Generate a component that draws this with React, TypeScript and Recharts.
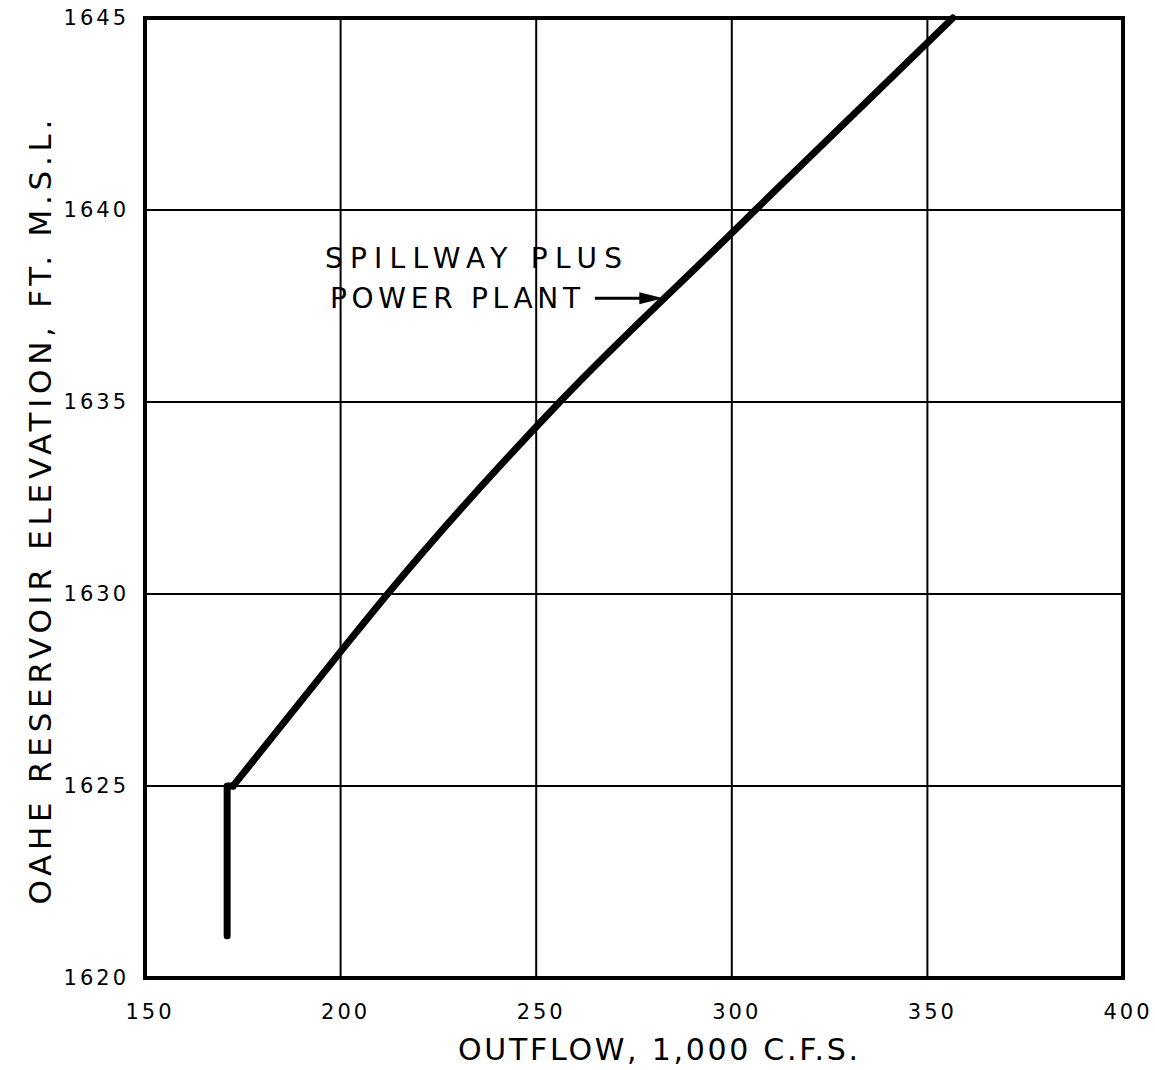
import { LineChart, Line, XAxis, YAxis, CartesianGrid, ReferenceArea, ReferenceLine, ReferenceDot } from 'recharts'

// outflow in 1,000 c.f.s., elevation in ft m.s.l.
const stemOutflow = [171, 171, 172.5]
const stemElevation = [1621.1, 1625, 1625]
const curveOutflow = [172.5, 200, 212, 256, 300, 306, 356.5]
const curveElevation = [1625, 1628.5, 1630, 1635, 1639.4, 1640, 1645]

const xTicks = [150, 200, 250, 300, 350, 400]
const yTicks = [1620, 1625, 1630, 1635, 1640, 1645]

const noteLines = ['SPILLWAY PLUS', 'POWER PLANT']
const noteAnchors = [
  { x: 196, y: 1638.5 },
  { x: 197.3, y: 1637.45 },
]
const noteWidths = [297, 250]
const arrowFrom = { x: 265, y: 1637.7 }
const arrowTo = { x: 282.5, y: 1637.7 }

const stem = stemOutflow.map((x, i) => ({ x, y: stemElevation[i] }))
const curve = curveOutflow.map((x, i) => ({ x, y: curveElevation[i] }))

const font = '"DejaVu Sans", sans-serif'

function Arrow(props: any) {
  const { x1, y1, x2, y2 } = props
  return (
    <g>
      <line x1={x1} y1={y1} x2={x2 - 14} y2={y2} stroke="#000" strokeWidth={3} />
      <polygon points={`${x2},${y2} ${x2 - 24},${y2 - 6} ${x2 - 24},${y2 + 6}`} fill="#000" />
    </g>
  )
}

export default function App() {
  return (
    <div style={{ position: 'absolute', left: 0, top: 0, background: '#fff' }}>
      <LineChart width={1155} height={1070} margin={{ top: 18, right: 32, bottom: 0, left: 0 }}>
        <CartesianGrid stroke="#000" strokeWidth={2} horizontalValues={yTicks} verticalValues={xTicks} />
        <XAxis
          dataKey="x"
          type="number"
          domain={[150, 400]}
          ticks={xTicks}
          height={92}
          tickSize={0}
          tickMargin={26}
          axisLine={{ stroke: '#000', strokeWidth: 4 }}
          tick={{ fill: '#000', fontSize: 21, fontFamily: font, letterSpacing: 3, dx: 5 }}
          label={{
            content: (p: any) => {
              const vb = p.viewBox
              return (
                <text
                  x={vb.x + vb.width / 2 + 24 - 200}
                  y={vb.y + 82}
                  fill="#000"
                  fontSize={30}
                  fontFamily={font}
                  textLength={400}
                  lengthAdjust="spacing"
                >
                  OUTFLOW, 1,000 C.F.S.
                </text>
              )
            },
          }}
        />
        <YAxis
          dataKey="y"
          type="number"
          domain={[1620, 1645]}
          ticks={yTicks}
          width={145}
          tickSize={0}
          tickMargin={16}
          axisLine={{ stroke: '#000', strokeWidth: 4 }}
          tick={{ fill: '#000', fontSize: 21, fontFamily: font, letterSpacing: 3 }}
          label={{
            content: (p: any) => {
              const vb = p.viewBox
              const cx = vb.x + 40
              const cy = vb.y + vb.height / 2 + 14
              return (
                <text
                  x={cx}
                  y={cy}
                  transform={`rotate(-90, ${cx}, ${cy})`}
                  textAnchor="middle"
                  dominantBaseline="central"
                  fill="#000"
                  fontSize={31}
                  fontFamily={font}
                  textLength={785}
                  lengthAdjust="spacing"
                >
                  OAHE RESERVOIR ELEVATION, FT. M.S.L.
                </text>
              )
            },
          }}
        />
        <ReferenceArea x1={150} x2={400} y1={1620} y2={1645} fill="none" stroke="#000" strokeWidth={4} ifOverflow="visible" />
        {noteLines.map((t, i) => (
          <ReferenceDot
            key={t}
            x={noteAnchors[i].x}
            y={noteAnchors[i].y}
            ifOverflow="visible"
            shape={(p: any) => (
              <text
                x={p.cx}
                y={p.cy}
                fill="#000"
                fontSize={28}
                fontFamily={font}
                textLength={noteWidths[i]}
                lengthAdjust="spacing"
              >
                {t}
              </text>
            )}
          />
        ))}
        <ReferenceLine segment={[arrowFrom, arrowTo]} shape={Arrow} ifOverflow="visible" />
        <Line
          data={stem}
          dataKey="y"
          type="linear"
          stroke="#000"
          strokeWidth={7}
          strokeLinecap="round"
          strokeLinejoin="round"
          dot={false}
          isAnimationActive={false}
        />
        <Line
          data={curve}
          dataKey="y"
          type="monotone"
          stroke="#000"
          strokeWidth={7}
          strokeLinecap="round"
          strokeLinejoin="round"
          dot={false}
          isAnimationActive={false}
        />
      </LineChart>
    </div>
  )
}
